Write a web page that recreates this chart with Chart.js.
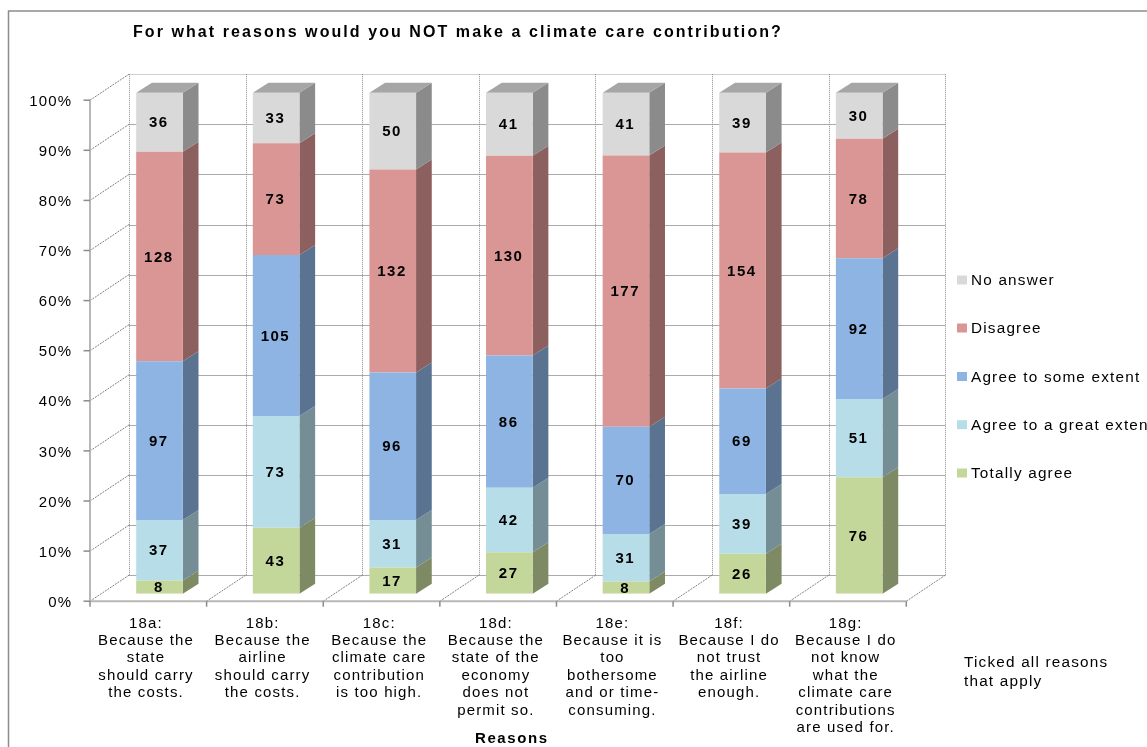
<!DOCTYPE html>
<html><head><meta charset="utf-8">
<style>html,body{margin:0;padding:0;background:#fff;overflow:hidden}canvas{display:block}</style>
<script src="https://cdn.jsdelivr.net/npm/chart.js@4"></script></head>
<body><div style="width:1147px;height:747px"><canvas id="c" width="1147" height="747"></canvas></div>
<script>
const categories = [
 ["18a:","Because the","state","should carry","the costs."],
 ["18b:","Because the","airline","should carry","the costs."],
 ["18c:","Because the","climate care","contribution","is too high."],
 ["18d:","Because the","state of the","economy","does not","permit so."],
 ["18e:","Because it is","too","bothersome","and or time-","consuming."],
 ["18f:","Because I do","not trust","the airline","enough."],
 ["18g:","Because I do","not know","what the","climate care","contributions","are used for."]
];
const totallyAgree = [8,43,17,27,8,26,76];
const greatExtent  = [37,73,31,42,31,39,51];
const someExtent   = [97,105,96,86,70,69,92];
const disagree     = [128,73,132,130,177,154,78];
const noAnswer     = [36,33,50,41,41,39,30];
const yTicks = [0,10,20,30,40,50,60,70,80,90,100];

const FONT = '"Liberation Sans", Arial, sans-serif';
const totals = categories.map((_,i)=>totallyAgree[i]+greatExtent[i]+someExtent[i]+disagree[i]+noAnswer[i]);
const share = arr => arr.map((v,i)=>v/totals[i]*100);
const mk = (label,raw,color,side) => ({label,raw,data:share(raw),backgroundColor:color,sideColor:side,borderWidth:0,barPercentage:0.4,categoryPercentage:1});

const DX=15.7, DY=-10;            // bar depth
const FX=-11.2, FY=7.5;           // bar plane -> front floor plane
const BX=27.8, BY=-18.5;          // bar plane -> back wall

const spacing = {
 id:'spacing',
 beforeLayout(c){c.ctx.letterSpacing='1.15px';},
 beforeDraw(c){c.ctx.letterSpacing='1.15px';}
};
const frame = {
 id:'scene',
 beforeDatasetsDraw(c){
  const g=c.ctx,x=c.scales.x,y=c.scales.y;
  const step=x.getPixelForValue(1)-x.getPixelForValue(0);
  const edge=i=>x.getPixelForValue(0)-step/2+i*step;
  const n=categories.length;
  const y0=y.getPixelForValue(0), y1=y.getPixelForValue(100);
  g.save();
  // frame
  g.strokeStyle='#8c8c8c';g.lineWidth=1.5;
  g.beginPath();g.moveTo(8.5,747);g.lineTo(8.5,11);g.lineTo(1147,11);g.stroke();
  // back wall grid
  g.lineWidth=1;g.strokeStyle='#ababab';
  yTicks.forEach(t=>{
    const py=Math.round(y.getPixelForValue(t)+BY)+.5;
    g.strokeStyle=t===100?'#d0d0d0':'#ababab';
    g.beginPath();g.moveTo(edge(0)+BX,py);g.lineTo(edge(n)+BX,py);g.stroke();
  });
  // dotted verticals on back wall
  g.strokeStyle='#8e8e8e';g.setLineDash([1,1]);
  for(let i=0;i<=n;i++){
    const px=Math.round(edge(i)+BX)+.5;
    g.beginPath();g.moveTo(px,y1+BY);g.lineTo(px,y0+BY);g.stroke();
  }
  // side wall diagonals
  g.strokeStyle='#808080';g.setLineDash([2,1]);
  yTicks.forEach(t=>{
    const py=y.getPixelForValue(t);
    g.beginPath();g.moveTo(edge(0)+FX,py+FY);g.lineTo(edge(0)+BX,py+BY);g.stroke();
  });
  // floor diagonals
  for(let i=1;i<=n;i++){
    g.beginPath();g.moveTo(edge(i)+FX,y0+FY);g.lineTo(edge(i)+BX,y0+BY);g.stroke();
  }
  g.setLineDash([]);
  // front axes
  g.strokeStyle='#b8b8b8';g.lineWidth=2;
  g.beginPath();g.moveTo(edge(0)+FX,y1+FY);g.lineTo(edge(0)+FX,y0+FY);g.lineTo(edge(n)+FX,y0+FY);g.stroke();
  g.strokeStyle='#8c8c8c';g.lineWidth=1.5;
  yTicks.forEach(t=>{const py=y.getPixelForValue(t)+FY;g.beginPath();g.moveTo(edge(0)+FX-6.5,py);g.lineTo(edge(0)+FX,py);g.stroke();});
  for(let i=0;i<=n;i++){g.beginPath();g.moveTo(edge(i)+FX,y0+FY);g.lineTo(edge(i)+FX,y0+FY+5.5);g.stroke();}
  // bar sides and tops
  c.data.datasets.forEach((ds,di)=>{
    c.getDatasetMeta(di).data.forEach(b=>{
      const r=b.x+b.width/2, t=b.y, bt=b.base;
      g.fillStyle=ds.sideColor;
      g.beginPath();g.moveTo(r,t);g.lineTo(r+DX,t+DY);g.lineTo(r+DX,bt+DY);g.lineTo(r,bt);g.closePath();g.fill();
      if(di===c.data.datasets.length-1){
        const l=b.x-b.width/2;
        g.fillStyle='#a6a6a6';
        g.beginPath();g.moveTo(l,t);g.lineTo(l+DX,t+DY);g.lineTo(r+DX,t+DY);g.lineTo(r,t);g.closePath();g.fill();
      }
    });
  });
  g.restore();
 },
 afterDatasetsDraw(c){
  const g=c.ctx;
  g.save();
  // value labels
  g.letterSpacing='1.5px';
  g.font='bold 15px '+FONT;g.fillStyle='#000';g.textAlign='center';g.textBaseline='middle';
  c.data.datasets.forEach((ds,di)=>{
    c.getDatasetMeta(di).data.forEach((b,i)=>{
      g.fillText(String(ds.raw[i]),b.x-0.7,(b.y+b.base)/2+1);
    });
  });
  // title
  g.letterSpacing='2.07px';
  g.font='bold 16px '+FONT;g.textAlign='left';g.fillText('For what reasons would you NOT make a climate care contribution?',133,32.5);
  // x axis title
  g.letterSpacing='1.6px';
  g.font='bold 15px '+FONT;g.fillText('Reasons',475,738.5);
  // legend
  g.letterSpacing='1.2px';
  g.font='15.3px '+FONT;
  const rows=[473,424.7,376.5,328,280];
  c.data.datasets.forEach((ds,di)=>{
    g.fillStyle=ds.backgroundColor;g.fillRect(957,rows[di]-4.5,10,9);
    g.fillStyle='#000';g.fillText(ds.label,971,rows[di]+1);
  });
  // note
  g.font='15.3px '+FONT;
  g.fillText('Ticked all reasons',964,663);
  g.fillText('that apply',964,682);
  g.restore();
 }
};
new Chart(document.getElementById('c'),{
 type:'bar',
 data:{labels:categories,datasets:[
  mk('Totally agree',totallyAgree,'#c4d79b','#7e8a63'),
  mk('Agree to a great extent',greatExtent,'#b7dee8','#758e95'),
  mk('Agree to some extent',someExtent,'#8db4e2','#5a7391'),
  mk('Disagree',disagree,'#da9694','#8c605f'),
  mk('No answer',noAnswer,'#d9d9d9','#8b8b8b')
 ]},
 plugins:[spacing,frame],
 options:{
  responsive:false,animation:false,devicePixelRatio:1,
  layout:{padding:{left:0,top:92.7,right:229.5,bottom:0}},
  plugins:{legend:{display:false},tooltip:{enabled:false},title:{display:false}},
  scales:{
   x:{stacked:true,grid:{display:false},border:{display:false},
      afterFit(s){s.height=747-593.7;},
      ticks:{maxRotation:0,minRotation:0,autoSkip:false,labelOffset:-13.5,padding:13,color:'#000',font:{family:FONT,size:15,lineHeight:1.16}}},
   y:{stacked:true,min:0,max:100,grid:{display:false},border:{display:false},
      afterFit(s){s.width=101.2;},
      afterBuildTicks(s){s.ticks=yTicks.map(v=>({value:v}));},
      ticks:{padding:21,labelOffset:9,color:'#000',font:{family:FONT,size:15},callback:v=>v+'%'}}
  }
 }
});
</script></body></html>
